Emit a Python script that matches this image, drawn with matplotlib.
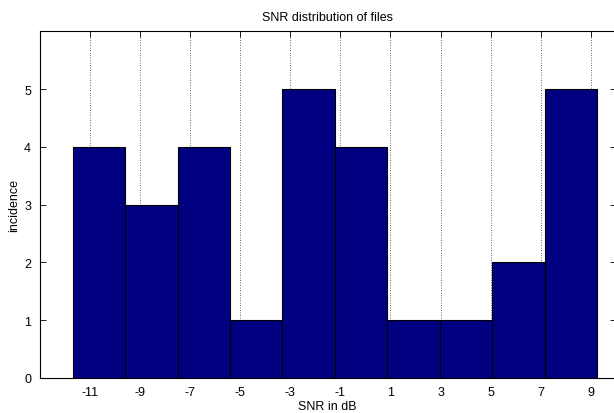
import matplotlib
matplotlib.use('Agg')
import matplotlib.pyplot as plt
import numpy as np

# histogram counts
counts = [4, 3, 4, 1, 5, 4, 1, 1, 2, 5]
data_min = -11.68
data_max = 9.25
tick_values = [-11, -9, -7, -5, -3, -1, 1, 3, 5, 7, 9]
y_ticks = [0, 1, 2, 3, 4, 5]

plt.rcParams['font.family'] = ['Liberation Sans', 'DejaVu Sans']

edges = np.linspace(data_min, data_max, len(counts) + 1)
widths = np.diff(edges)

fig = plt.figure(figsize=(6.14, 4.14), dpi=100)
ax = fig.add_axes([39.5 / 614, (414 - 379) / 414, 576.6 / 614, (379 - 32.3) / 414])

ax.bar(edges[:-1], counts, width=widths, align='edge', color='#000080',
       edgecolor='black', linewidth=0.8, zorder=2)

ax.set_xlim(-13, 10)
ax.set_ylim(0, 6)
ax.set_xticks(tick_values)
ax.set_xticklabels([str(v) for v in tick_values])
ax.set_yticks(y_ticks)

ax.xaxis.grid(True, linestyle=(0, (1, 2)), color='#333333', linewidth=0.6, zorder=0)
ax.set_axisbelow(True)

ax.tick_params(direction='in', length=4, width=0.6, top=True, right=True,
               labelsize=9, pad=6)
for s in ax.spines.values():
    s.set_linewidth(0.8)

ax.set_title('SNR distribution of files', fontsize=9, pad=8)
ax.set_xlabel('SNR in dB', fontsize=9, labelpad=1)
ax.set_ylabel('incidence', fontsize=9, labelpad=3)

fig.savefig('out.png', dpi=100)
